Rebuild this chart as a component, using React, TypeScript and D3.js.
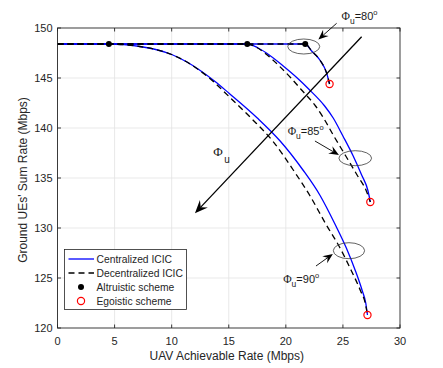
import React, { useEffect, useRef } from "react";
import * as d3 from "d3";

type Pt = [number, number];

// === Data (x: UAV rate, y: ground sum rate) ===
const cent90: Pt[] = [[0, 148.4], [4.5, 148.4], [5.8, 148.33], [7.2, 148.15], [8.6, 147.85], [10, 147.35], [11.3, 146.62], [12.5, 145.75], [13.8, 144.65], [15, 143.5], [17.5, 141.0], [19.5, 138.7], [21.5, 135.8], [23, 133.25], [24.3, 130.4], [25.3, 128.0], [26.1, 125.7], [26.7, 123.7], [27.0, 122.5], [27.15, 121.3]];
const decent90: Pt[] = [[0, 148.4], [4.5, 148.4], [5.8, 148.33], [7.2, 148.15], [8.6, 147.85], [10, 147.35], [11.3, 146.62], [12.45, 145.75], [13.65, 144.65], [14.7, 143.5], [16.95, 141.0], [18.85, 138.7], [20.65, 135.8], [22.1, 133.25], [23.5, 130.4], [24.75, 128.0], [25.75, 125.7], [26.55, 123.7], [26.95, 122.5], [27.15, 121.3]];
const cent85: Pt[] = [[0, 148.4], [16.62, 148.4], [17.5, 148.05], [18.3, 147.5], [19.77, 146.2], [21.0, 145.0], [22.0, 143.9], [23.4, 142.2], [24.15, 141.0], [25.0, 139.2], [25.9, 137.2], [26.64, 135.3], [27.2, 133.7], [27.4, 132.6]];
const decent85: Pt[] = [[0, 148.4], [16.62, 148.4], [17.45, 148.05], [18.15, 147.5], [19.42, 146.2], [20.45, 145.0], [21.3, 143.9], [22.6, 142.2], [23.3, 141.0], [24.2, 139.2], [25.25, 137.2], [26.24, 135.3], [27.05, 133.7], [27.4, 132.6]];
const cent80: Pt[] = [[0, 148.4], [21.7, 148.4], [22.26, 147.7], [22.98, 146.8], [23.57, 145.5], [23.83, 144.4]];
const decent80: Pt[] = [[0, 148.4], [21.7, 148.4], [22.26, 147.7], [22.98, 146.8], [23.57, 145.5], [23.83, 144.4]];

const altruistic: Pt[] = [[4.5, 148.4], [16.62, 148.4], [21.7, 148.4]];
const egoistic: Pt[] = [[23.83, 144.4], [27.4, 132.6], [27.15, 121.3]];

const xTicks = [0, 5, 10, 15, 20, 25, 30];
const yTicks = [120, 125, 130, 135, 140, 145, 150];

// annotations (data coords)
const ellipses = [
  { c: [21.57, 148.15], rx: 1.4, ry: 0.75 },
  { c: [26.08, 136.98], rx: 1.43, ry: 0.75 },
  { c: [25.53, 127.73], rx: 1.37, ry: 0.8 },
];
const arrows = [
  { from: [24.45, 150.47], to: [22.85, 148.85], head: 10 },
  { from: [22.55, 138.7], to: [24.65, 137.3], head: 10 },
  { from: [22.64, 126.2], to: [24.12, 127.4], head: 10 },
  { from: [26.64, 149.13], to: [12.04, 131.47], head: 13 },
];
const phiLabels = [
  { at: [24.88, 150.8], val: "80" },
  { at: [20.16, 139.3], val: "85" },
  { at: [19.77, 124.5], val: "90" },
];

const W = 443, H = 368;
const axisColor = "#262626";

export default function App() {
  const ref = useRef<SVGSVGElement>(null);

  useEffect(() => {
    const svg = d3.select(ref.current);
    svg.selectAll("*").remove();

    const x = d3.scaleLinear().domain([0, 30]).range([57.5, 400]);
    const y = d3.scaleLinear().domain([120, 150]).range([328, 28]);
    const [x0, x1] = x.range();
    const [y0, y1] = y.range();

    svg.append("rect").attr("width", W).attr("height", H).attr("fill", "#fff");

    // grid
    const grid = svg.append("g").attr("stroke", "#e3e3e3").attr("stroke-width", 0.8);
    grid.selectAll("line.gx").data(xTicks.slice(1, -1)).join("line")
      .attr("x1", d => x(d)).attr("x2", d => x(d)).attr("y1", y0).attr("y2", y1);
    grid.selectAll("line.gy").data(yTicks.slice(1, -1)).join("line")
      .attr("class", "gy")
      .attr("x1", x0).attr("x2", x1).attr("y1", d => y(d)).attr("y2", d => y(d));

    // curves
    const line = d3.line<Pt>().x(d => x(d[0])).y(d => y(d[1])).curve(d3.curveMonotoneX);
    const plot = svg.append("g").attr("fill", "none");
    [cent90, cent85, cent80].forEach(s => {
      plot.append("path").attr("d", line(s)).attr("stroke", "#0000ff").attr("stroke-width", 1.3);
    });
    [decent90, decent85, decent80].forEach(s => {
      plot.append("path").attr("d", line(s)).attr("stroke", "#000").attr("stroke-width", 1.3)
        .attr("stroke-dasharray", "6,4");
    });

    svg.append("g").selectAll("circle").data(altruistic).join("circle")
      .attr("cx", d => x(d[0])).attr("cy", d => y(d[1])).attr("r", 3).attr("fill", "#000");
    svg.append("g").selectAll("circle").data(egoistic).join("circle")
      .attr("cx", d => x(d[0])).attr("cy", d => y(d[1])).attr("r", 3.6)
      .attr("fill", "none").attr("stroke", "#ff0000").attr("stroke-width", 1.2);

    // axes box + ticks
    const ax = svg.append("g").attr("stroke", axisColor).attr("stroke-width", 0.9);
    ax.append("rect").attr("x", x0).attr("y", y1).attr("width", x1 - x0).attr("height", y0 - y1).attr("fill", "none");
    xTicks.forEach(t => {
      ax.append("line").attr("x1", x(t)).attr("x2", x(t)).attr("y1", y0).attr("y2", y0 - 3.5);
      ax.append("line").attr("x1", x(t)).attr("x2", x(t)).attr("y1", y1).attr("y2", y1 + 3.5);
    });
    yTicks.forEach(t => {
      ax.append("line").attr("x1", x0).attr("x2", x0 + 3.5).attr("y1", y(t)).attr("y2", y(t));
      ax.append("line").attr("x1", x1).attr("x2", x1 - 3.5).attr("y1", y(t)).attr("y2", y(t));
    });

    const font = "Liberation Sans, Arial, sans-serif";
    svg.append("g").selectAll("text").data(xTicks).join("text")
      .attr("x", d => x(d)).attr("y", 345).attr("text-anchor", "middle")
      .attr("font-family", font).attr("font-size", 11).attr("fill", axisColor).text(d => d);
    svg.append("g").selectAll("text").data(yTicks).join("text")
      .attr("x", 52.5).attr("y", d => y(d) + 4).attr("text-anchor", "end")
      .attr("font-family", font).attr("font-size", 11).attr("fill", axisColor).text(d => d);

    svg.append("text").attr("x", (x0 + x1) / 2 - 2).attr("y", 360).attr("text-anchor", "middle")
      .attr("font-family", font).attr("font-size", 12).attr("fill", axisColor)
      .text("UAV Achievable Rate (Mbps)");
    svg.append("text").attr("transform", `translate(27,${(y0 + y1) / 2 + 2}) rotate(-90)`)
      .attr("text-anchor", "middle")
      .attr("font-family", font).attr("font-size", 12).attr("fill", axisColor)
      .text("Ground UEs' Sum Rate (Mbps)");

    // annotations: ellipses
    svg.append("g").selectAll("ellipse").data(ellipses).join("ellipse")
      .attr("cx", d => x(d.c[0])).attr("cy", d => y(d.c[1]))
      .attr("rx", d => x(d.rx) - x(0)).attr("ry", d => y(0) - y(d.ry))
      .attr("fill", "none").attr("stroke", "#3a3a3a").attr("stroke-width", 0.8);

    // arrows with notched heads
    const ag = svg.append("g");
    arrows.forEach(a => {
      const fx = x(a.from[0]), fy = y(a.from[1]);
      const tx = x(a.to[0]), ty = y(a.to[1]);
      const len = Math.hypot(tx - fx, ty - fy);
      const ux = (tx - fx) / len, uy = (ty - fy) / len;
      const px = -uy, py = ux;
      const L = a.head, hw = a.head * 0.42;
      const bx = tx - ux * L, by = ty - uy * L;
      const nx = tx - ux * L * 0.65, ny = ty - uy * L * 0.65;
      ag.append("line").attr("x1", fx).attr("y1", fy).attr("x2", nx).attr("y2", ny)
        .attr("stroke", "#000").attr("stroke-width", a.head > 11 ? 1.3 : 0.9);
      ag.append("path")
        .attr("d", `M${tx},${ty}L${bx + px * hw},${by + py * hw}L${nx},${ny}L${bx - px * hw},${by - py * hw}Z`)
        .attr("fill", "#000");
    });

    // Φ labels
    phiLabels.forEach(l => {
      const t = svg.append("text").attr("x", x(l.at[0])).attr("y", y(l.at[1]))
        .attr("font-family", font).attr("font-size", 11).attr("fill", "#1a1a1a");
      t.append("tspan").attr("font-family", "Liberation Serif, serif").attr("font-size", 11.5).text("Φ");
      t.append("tspan").attr("font-size", 8.5).attr("dy", 4).text("u");
      t.append("tspan").attr("dy", -4).text(`=${l.val}`);
      t.append("tspan").attr("font-size", 7.5).attr("dy", -5).text("o");
    });
    const big = svg.append("text").attr("x", x(13.64)).attr("y", y(137.2))
      .attr("font-family", font).attr("fill", "#1a1a1a");
    big.append("tspan").attr("font-family", "Liberation Serif, serif").attr("font-size", 13).text("Φ");
    big.append("tspan").attr("font-size", 10).attr("dy", 7).attr("dx", 1.5).text("u");

    // legend
    const lg = svg.append("g").attr("transform", "translate(64.5,249.5)");
    lg.append("rect").attr("width", 122).attr("height", 60).attr("fill", "#fff")
      .attr("stroke", axisColor).attr("stroke-width", 0.8);
    const rows = [
      { label: "Centralized ICIC", kind: "solid" },
      { label: "Decentralized ICIC", kind: "dash" },
      { label: "Altruistic scheme", kind: "dot" },
      { label: "Egoistic scheme", kind: "ring" },
    ];
    rows.forEach((r, i) => {
      const cy = 9.5 + i * 14;
      if (r.kind === "solid" || r.kind === "dash") {
        lg.append("line").attr("x1", 4).attr("x2", 29.5).attr("y1", cy).attr("y2", cy)
          .attr("stroke", r.kind === "solid" ? "#0000ff" : "#000").attr("stroke-width", 1.3)
          .attr("stroke-dasharray", r.kind === "dash" ? "6,4" : null);
      } else if (r.kind === "dot") {
        lg.append("circle").attr("cx", 16.5).attr("cy", cy).attr("r", 3).attr("fill", "#000");
      } else {
        lg.append("circle").attr("cx", 16.5).attr("cy", cy).attr("r", 3.6).attr("fill", "none")
          .attr("stroke", "#ff0000").attr("stroke-width", 1.2);
      }
      lg.append("text").attr("x", 32).attr("y", cy + 3.8)
        .attr("font-family", font).attr("font-size", 10.3).attr("fill", axisColor).text(r.label);
    });
  }, []);

  return (
    <svg ref={ref} width={W} height={H} style={{ position: "absolute", left: 0, top: 0 }} />
  );
}
